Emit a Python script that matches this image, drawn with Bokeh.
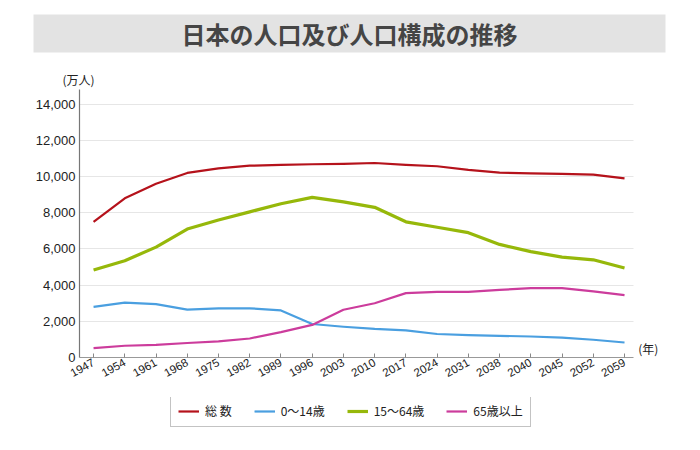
from bokeh.plotting import figure
from bokeh.models import Range1d, FixedTicker, Legend, LegendItem, Label, ColumnDataSource
from bokeh.layouts import column
from bokeh.embed import file_html
from bokeh.resources import INLINE
from bokeh.core.properties import value

years = ["1947", "1954", "1961", "1968", "1975", "1982", "1989", "1996", "2003",
         "2010", "2017", "2024", "2031", "2038", "2040", "2045", "2052", "2059"]
total = [7500, 8800, 9600, 10200, 10450, 10600, 10650, 10680, 10700,
         10750, 10650, 10570, 10370, 10220, 10180, 10150, 10110, 9900]
age0_14 = [2800, 3030, 2950, 2650, 2720, 2720, 2600, 1850, 1700,
           1580, 1500, 1300, 1240, 1200, 1160, 1100, 980, 830]
age15_64 = [4840, 5350, 6100, 7100, 7600, 8050, 8500, 8850, 8600,
            8300, 7500, 7200, 6900, 6250, 5850, 5550, 5400, 4950]
age65 = [520, 650, 700, 800, 890, 1050, 1400, 1800, 2640,
         3000, 3560, 3630, 3630, 3740, 3830, 3830, 3650, 3450]
series_names = ["総 数", "0～14歳", "15～64歳", "65歳以上"]
y_ticks = [0, 2000, 4000, 6000, 8000, 10000, 12000, 14000]

colors = ["#b5121b", "#4a9fe0", "#96b80a", "#cc3c9c"]
widths = [2.2, 2.2, 3.2, 2.2]
JP = "Noto Sans CJK JP"
LAT = "Liberation Sans"

idx = list(range(len(years)))
src = ColumnDataSource(dict(x=idx, total=total, a=age0_14, b=age15_64, c=age65))
cols = ["total", "a", "b", "c"]

W = 684

# ---- title band figure ----
t = figure(width=W, height=60, x_range=Range1d(0, W), y_range=Range1d(0, 60),
           output_backend="svg", toolbar_location=None, min_border=0, frame_align=False)
t.axis.visible = False
t.grid.visible = False
t.outline_line_color = None
t.quad(left=[33], right=[665], bottom=[8], top=[46], fill_color="#e3e3e3", line_color=None)
t.text(x=[349], y=[27], text=["日本の人口及び人口構成の推移"], text_align="center",
       text_baseline="middle", text_font=value(JP), text_font_style="bold",
       text_font_size="24px", text_color="#454545")

# ---- main chart ----
X0, X1, XEND = -0.45, 17.3, 18.6
p = figure(width=W, height=337, output_backend="svg", toolbar_location=None,
           x_range=Range1d(X0, XEND), y_range=Range1d(0, 14812), frame_align=False,
           min_border_left=79, min_border_right=10, min_border_top=29, min_border_bottom=40)
p.outline_line_color = None
p.title.text = "(万人)"
p.title.align = "left"
p.title.offset = -17
p.title.standoff = 3
p.title.text_font = JP
p.title.text_font_size = "12px"
p.title.text_font_style = "normal"
p.title.text_color = "#222222"

p.xgrid.visible = False
p.ygrid.grid_line_color = "#e6e6e6"
p.ygrid.grid_line_width = 1
try:
    p.ygrid[0].cross_bounds = (X0, X1)
except Exception:
    pass
p.yaxis.ticker = FixedTicker(ticks=y_ticks)
p.yaxis.major_label_overrides = {v: f"{v:,}" for v in y_ticks}
p.yaxis.major_tick_line_color = None
p.yaxis.major_tick_in = 0
p.yaxis.major_tick_out = 0
p.yaxis.minor_tick_line_color = None
p.yaxis.axis_line_color = "#777777"
p.yaxis.axis_line_width = 1.2
p.yaxis.major_label_text_font = LAT
p.yaxis.major_label_text_font_size = "13px"
p.yaxis.major_label_text_color = "#222222"
p.yaxis.major_label_standoff = 4

p.xaxis.ticker = FixedTicker(ticks=idx)
p.xaxis.bounds = (X0, X1)
p.xaxis.major_label_overrides = {i: y for i, y in enumerate(years)}
p.xaxis.major_label_orientation = 0.5
p.xaxis.major_tick_in = 4
p.xaxis.major_tick_out = 0
p.xaxis.major_tick_line_color = "#888888"
p.xaxis.minor_tick_line_color = None
p.xaxis.axis_line_color = "#999999"
p.xaxis.axis_line_width = 1.2
p.xaxis.major_label_text_font = LAT
p.xaxis.major_label_text_font_size = "11.5px"
p.xaxis.major_label_text_color = "#222222"
p.xaxis.major_label_standoff = 4

for col, c, w in zip(cols, colors, widths):
    p.line("x", col, source=src, line_color=c, line_width=w, line_join="round")

p.add_layout(Label(x=17.44, y=0, y_offset=1, text="(年)", text_align="left",
                   text_baseline="bottom", text_font=JP, text_font_size="12px",
                   text_color="#222222"))

# ---- legend strip (same series, outside its view; only the legend shows) ----
lg = figure(width=W, height=37, x_range=Range1d(100, 101), y_range=Range1d(0, 1),
            output_backend="svg", toolbar_location=None, min_border=0, frame_align=False)
lg.axis.visible = False
lg.grid.visible = False
lg.outline_line_color = None
items = []
for col, c, w, name in zip(cols, colors, widths, series_names):
    r = lg.line("x", col, source=src, line_color=c, line_width=w)
    items.append(LegendItem(label=name, renderers=[r]))
legend = Legend(items=items, orientation="horizontal", location=(170, 7),
                border_line_color="#888888", border_line_width=1,
                padding=7, spacing=22, glyph_width=21, glyph_height=14,
                label_height=14, label_standoff=6, margin=0,
                label_text_font=JP, label_text_font_size="12px",
                label_text_color="#222222", background_fill_alpha=1)
lg.add_layout(legend)

layout = column(t, p, lg, spacing=0)
open("out.html", "w").write(file_html(layout, INLINE))
